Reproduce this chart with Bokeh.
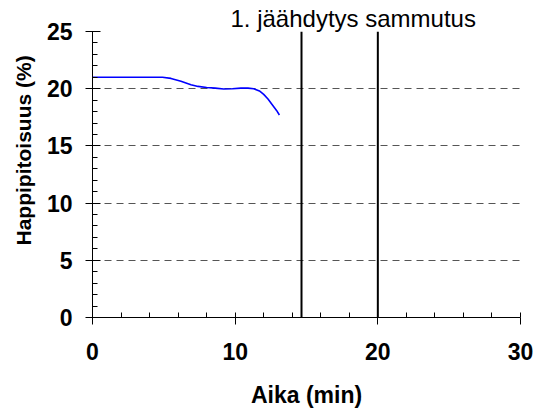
from bokeh.plotting import figure
from bokeh.models import SingleIntervalTicker, Title, Range1d
from bokeh.embed import file_html
from bokeh.resources import INLINE

# Data
time_min = [0, 1, 2, 3, 4, 4.9, 5.5, 6.2, 6.9, 7.4, 8.0, 8.6, 9.2, 9.8, 10.4,
            10.9, 11.3, 11.7, 12.0, 12.3, 12.6, 12.9, 13.1]
oxygen_pct = [21.0, 21.0, 21.0, 21.0, 21.0, 21.0, 20.9, 20.65, 20.35, 20.2, 20.1,
              20.05, 19.98, 20.0, 20.05, 20.05, 20.0, 19.8, 19.5, 19.1, 18.6, 18.1, 17.7]
event_times = [14.65, 20.0]
event_label = "1. jäähdytys sammutus"
x_title = "Aika (min)"
y_title = "Happipitoisuus (%)"

FONT = "Liberation Sans"

p = figure(width=536, height=415, output_backend="svg", toolbar_location=None,
           x_range=Range1d(0, 30), y_range=Range1d(0, 25),
           min_border_left=92, min_border_right=16, min_border_top=31, min_border_bottom=98)
p.outline_line_color = None
p.background_fill_color = "white"
p.border_fill_color = "white"

# grids
p.xgrid.grid_line_color = None
p.ygrid.grid_line_color = "#555555"
p.ygrid.grid_line_dash = "7 5"
p.ygrid.grid_line_width = 1

# axes
p.xaxis.ticker = SingleIntervalTicker(interval=10, num_minor_ticks=5)
p.yaxis.ticker = SingleIntervalTicker(interval=5, num_minor_ticks=5)
for ax in (p.xaxis, p.yaxis):
    ax.axis_line_color = "black"
    ax.major_tick_line_color = "black"
    ax.minor_tick_line_color = "black"
    ax.major_label_text_font = FONT
    ax.major_label_text_font_style = "bold"
    ax.major_label_text_font_size = "23px"
    ax.major_label_text_color = "black"
    ax.minor_tick_out = 0
    ax.minor_tick_in = 5
p.xaxis.major_tick_out = 7
p.xaxis.major_tick_in = 0
p.yaxis.major_tick_out = 7
p.yaxis.major_tick_in = 8
p.xaxis.major_label_standoff = 18
p.yaxis.major_label_standoff = 13

p.xaxis.axis_label = x_title
p.xaxis.axis_label_text_font = FONT
p.xaxis.axis_label_text_font_style = "bold"
p.xaxis.axis_label_text_font_size = "23px"
p.xaxis.axis_label_text_color = "black"
p.xaxis.axis_label_standoff = 19

# y title (placed above the frame centre, as in the reference)
p.add_layout(Title(text=y_title, align="left", offset=72, standoff=17,
                   text_font=FONT, text_font_style="bold", text_font_size="21px",
                   text_color="black"), "left")

# event annotation above the frame
p.add_layout(Title(text=event_label, align="left", offset=138, standoff=0,
                   text_font=FONT, text_font_style="normal", text_font_size="24px",
                   text_color="black"), "above")

# event lines
p.segment(x0=event_times, y0=[0] * len(event_times), x1=event_times,
          y1=[25] * len(event_times), line_color="black", line_width=2)

# oxygen line
p.line(time_min, oxygen_pct, line_color="#0000FF", line_width=1.6)

open("out.html", "w").write(file_html(p, INLINE))
